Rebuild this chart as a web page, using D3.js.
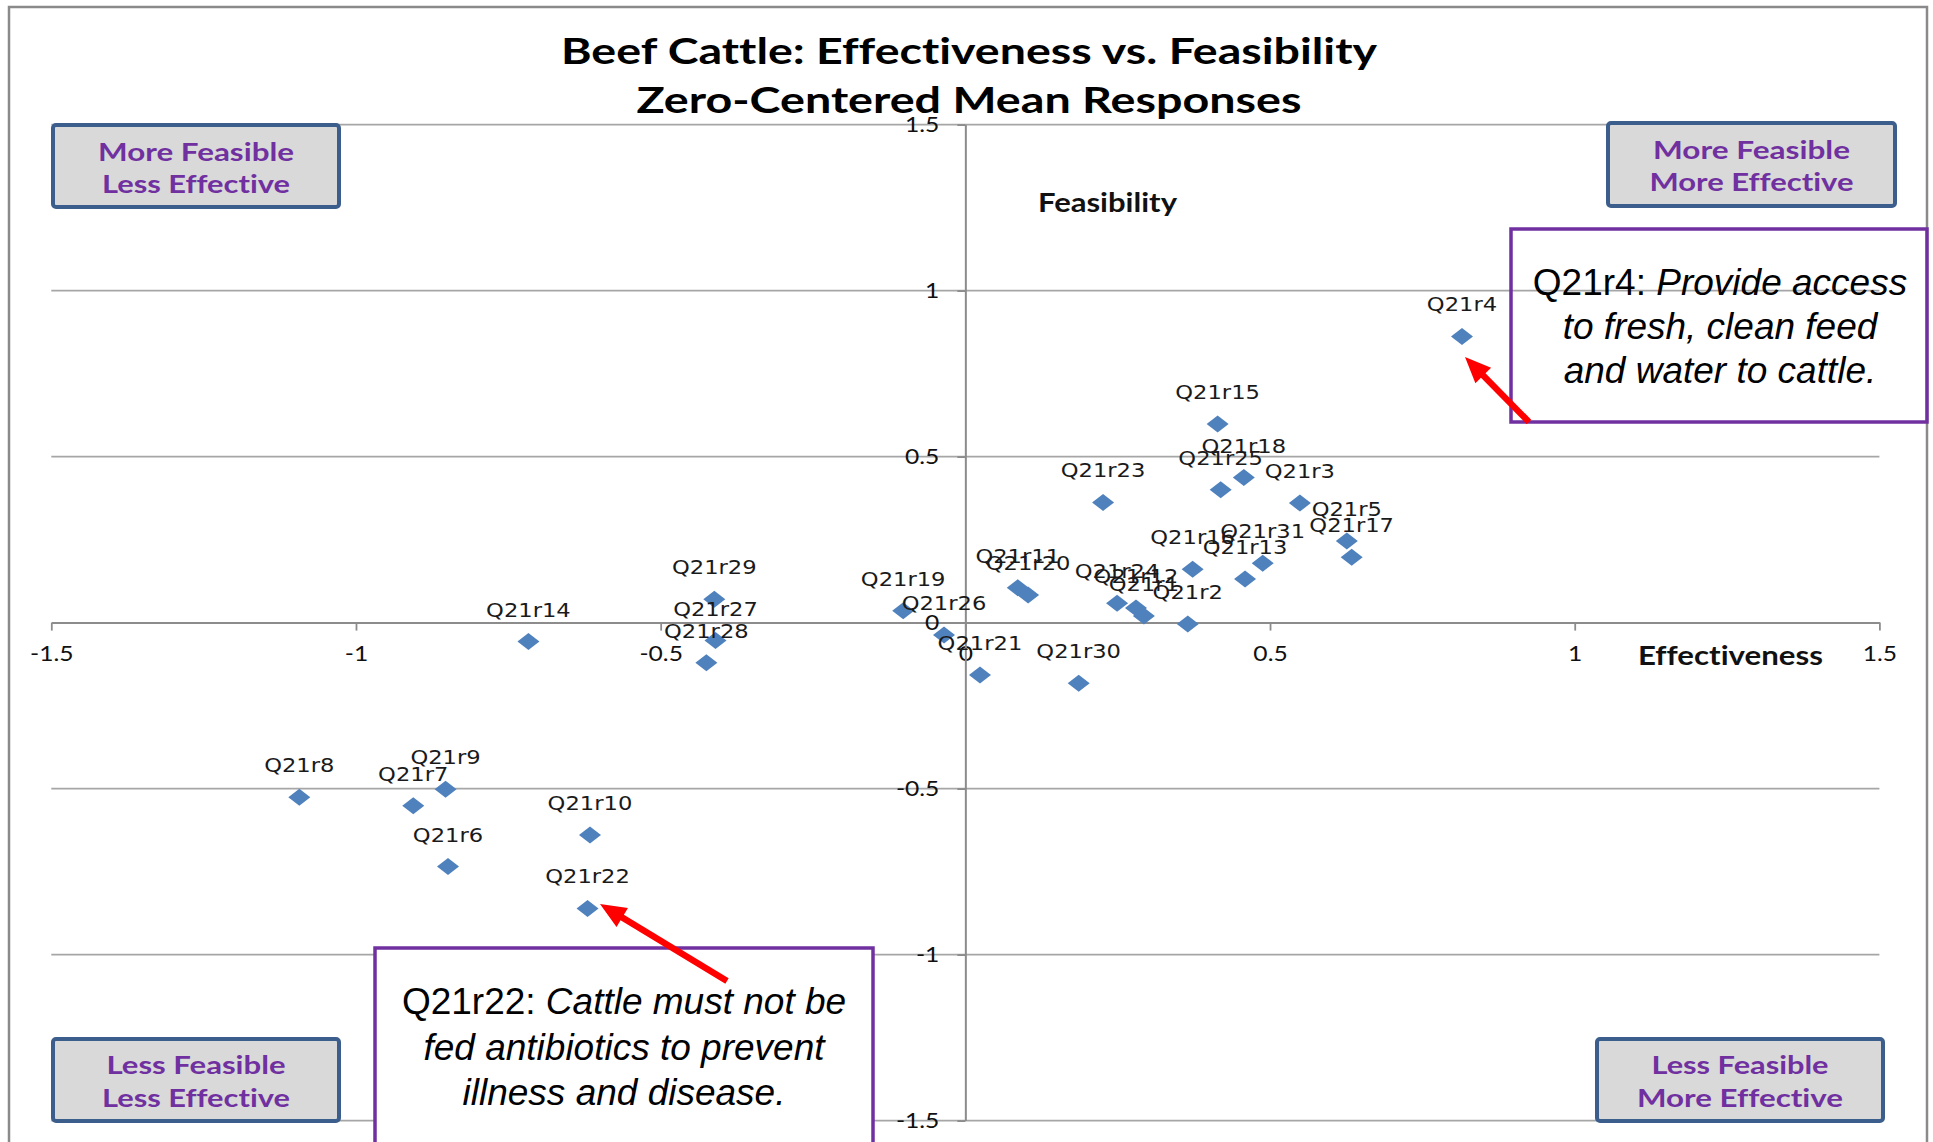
<!DOCTYPE html>
<html><head><meta charset="utf-8">
<script src="https://cdn.jsdelivr.net/npm/d3@7/dist/d3.min.js"></script>
<style>body{margin:0;background:#fff;} svg{display:block;} text{font-variant-ligatures:none;}</style>
</head><body>
<svg id="chart" width="1933" height="1142"></svg>
<script>
// ---------- data ----------
const labels = ["Q21r1","Q21r2","Q21r3","Q21r4","Q21r5","Q21r6","Q21r7","Q21r8","Q21r9","Q21r10",
  "Q21r11","Q21r12","Q21r13","Q21r14","Q21r15","Q21r16","Q21r17","Q21r18","Q21r19","Q21r20",
  "Q21r21","Q21r22","Q21r23","Q21r24","Q21r25","Q21r26","Q21r27","Q21r28","Q21r29","Q21r30","Q21r31"];
const effectiveness = [0.293,0.365,0.549,0.815,0.626,-0.849,-0.906,-1.093,-0.853,-0.616,
  0.086,0.280,0.459,-0.717,0.414,0.373,0.634,0.457,-0.102,0.103,
  0.024,-0.620,0.226,0.249,0.419,-0.035,-0.410,-0.425,-0.412,0.186,0.488];
const feasibility = [0.020,-0.004,0.360,0.862,0.246,-0.735,-0.552,-0.526,-0.502,-0.640,
  0.105,0.044,0.131,-0.057,0.598,0.161,0.197,0.437,0.036,0.083,
  -0.158,-0.861,0.362,0.058,0.400,-0.037,-0.054,-0.121,0.070,-0.183,0.179];
const xTicks = [-1.5,-1,-0.5,0,0.5,1,1.5];
const xTickLabels = ["-1.5","-1","-0.5","0","0.5","1","1.5"];
const yTicks = [-1.5,-1,-0.5,0,0.5,1,1.5];
const yTickLabels = ["-1.5","-1","-0.5","0","0.5","1","1.5"];
const titleLines = ["Beef Cattle: Effectiveness vs. Feasibility","Zero-Centered Mean Responses"];
const xAxisTitle = "Effectiveness";
const yAxisTitle = "Feasibility";
const quadrantLines = [["More Feasible","Less Effective"],["More Feasible","More Effective"],
  ["Less Feasible","Less Effective"],["Less Feasible","More Effective"]];
const noteTop = [["Q21r4: ","Provide access"],["","to fresh, clean feed"],["","and water to cattle."]];
const noteBottom = [["Q21r22: ","Cattle must not be"],["","fed antibiotics to prevent"],["","illness and disease."]];

// ---------- layout ----------
const svg = d3.select("#chart");
const x = d3.scaleLinear().domain([-1.5,1.5]).range([51.3,1879.4]);
const y = d3.scaleLinear().domain([-1.5,1.5]).range([1120.6,124.6]);
const GRID = "#a6a6a6", AXIS = "#8c8c8c", BLUE = "#4f81bd", PURPLE = "#7030a0";
const CAL = "Lato, 'Open Sans', sans-serif";

function stretch(sel, k){
  sel.each(function(){
    const w = this.getComputedTextLength();
    this.setAttribute("textLength", w*k);
    this.setAttribute("lengthAdjust","spacingAndGlyphs");
  });
}
function fit(sel, w){
  sel.attr("textLength", w).attr("lengthAdjust","spacingAndGlyphs");
}

// outer chart border
svg.append("rect").attr("x",9).attr("y",7).attr("width",1918).attr("height",1160)
  .attr("fill","#fff").attr("stroke","#8a8a8a").attr("stroke-width",2.5);

// gridlines
svg.append("g").selectAll("line").data(yTicks.filter(d=>d!==0)).join("line")
  .attr("x1",x(-1.5)).attr("x2",x(1.5)).attr("y1",d=>y(d)).attr("y2",d=>y(d))
  .attr("stroke",GRID).attr("stroke-width",1.8);

// x axis
const gx = svg.append("g").attr("transform",`translate(0,${y(0)})`)
  .call(d3.axisBottom(x).tickValues(xTicks).tickSize(8).tickSizeOuter(0)
    .tickFormat((d,i)=>xTickLabels[i]));
// y axis
const gy = svg.append("g").attr("transform",`translate(${x(0)},0)`)
  .call(d3.axisLeft(y).tickValues(yTicks).tickSize(8).tickSizeOuter(0)
    .tickFormat((d,i)=>yTickLabels[i]));
[gx,gy].forEach(g=>{
  g.select(".domain").attr("stroke",AXIS).attr("stroke-width",2);
  g.selectAll(".tick line").attr("stroke",AXIS).attr("stroke-width",1.8);
  g.selectAll(".tick text").attr("fill","#111").style("font-family",CAL).style("font-size","20.5px");
});
gx.selectAll(".tick text").attr("y",38).attr("dy",null);
gy.selectAll(".tick text").attr("x",-26).attr("dy","0.36em");
stretch(gx.selectAll(".tick text"),1.2);
stretch(gy.selectAll(".tick text"),1.2);

// axis titles
svg.append("text").attr("x",1107.5).attr("y",212).attr("text-anchor","middle")
  .style("font-family",CAL).style("font-weight",700).style("font-size","26px").attr("fill","#111")
  .text(yAxisTitle).call(fit,139);
svg.append("text").attr("x",1730.5).attr("y",665).attr("text-anchor","middle")
  .style("font-family",CAL).style("font-weight",700).style("font-size","27px").attr("fill","#111")
  .text(xAxisTitle).call(fit,185);

// points
const pts = labels.map((l,i)=>({label:l, ex:effectiveness[i], fe:feasibility[i]}));
svg.append("g").selectAll("path").data(pts).join("path")
  .attr("d","M0,-8.5L11,0L0,8.5L-11,0Z")
  .attr("transform",d=>`translate(${x(d.ex)},${y(d.fe)})`)
  .attr("fill",BLUE);
const lab = svg.append("g").selectAll("text").data(pts).join("text")
  .attr("x",d=>x(d.ex)).attr("y",d=>y(d.fe)-25).attr("text-anchor","middle")
  .style("font-family","'DejaVu Sans', Verdana, sans-serif").style("font-size","19.5px")
  .attr("fill","#1a1a1a").text(d=>d.label);
stretch(lab,1.16);

// title
const titleW = [816,665], titleB = [64,113];
titleLines.forEach((t,i)=>{
  svg.append("text").attr("x",969).attr("y",titleB[i]).attr("text-anchor","middle")
    .style("font-family",CAL).style("font-weight",700).style("font-size","36px").attr("fill","#000")
    .text(t).call(fit,titleW[i]);
});

// quadrant boxes
const qBoxes = [
  {x:53,y:125,w:286,h:82,b:[161,193],tw:[196,188]},
  {x:1608,y:123,w:287,h:83,b:[159,191],tw:[197,204]},
  {x:53,y:1039,w:286,h:82,b:[1074,1107],tw:[179,188]},
  {x:1597,y:1039,w:286,h:82,b:[1074,1107],tw:[177,206]}
];
qBoxes.forEach((q,i)=>{
  svg.append("rect").attr("x",q.x).attr("y",q.y).attr("width",q.w).attr("height",q.h).attr("rx",3)
    .attr("fill","#d9d9d9").attr("stroke","#3b5e8c").attr("stroke-width",4);
  quadrantLines[i].forEach((t,j)=>{
    svg.append("text").attr("x",q.x+q.w/2).attr("y",q.b[j]).attr("text-anchor","middle")
      .style("font-family",CAL).style("font-weight",700).style("font-size","25.5px").attr("fill",PURPLE)
      .text(t).call(fit,q.tw[j]);
  });
});

// note boxes
function note(box, lines, cx, base, fill){
  svg.append("rect").attr("x",box[0]).attr("y",box[1]).attr("width",box[2]).attr("height",box[3])
    .attr("fill",fill).attr("stroke",PURPLE).attr("stroke-width",3.5);
  lines.forEach((ln,j)=>{
    const t = svg.append("text").attr("x",cx).attr("y",base[j]).attr("text-anchor","middle")
      .style("font-family","'Liberation Sans', Arial, sans-serif").style("font-size","37px").attr("fill","#000");
    if(ln[0]) t.append("tspan").text(ln[0]);
    t.append("tspan").style("font-style","italic").text(ln[1]);
  });
}
note([1511,229,416,193], noteTop, 1720, [295,339,383], "none");
note([375,948,498,200], noteBottom, 624, [1014,1060,1105], "#fff");

// arrows
function arrow(x1,y1,x2,y2){
  const dx=x2-x1, dy=y2-y1, L=Math.hypot(dx,dy), ux=dx/L, uy=dy/L, px=-uy, py=ux;
  const sw=3.2, hl=26, hw=11;
  const bx=x2-ux*hl, by=y2-uy*hl;
  const p=[[x1+px*sw,y1+py*sw],[bx+px*sw,by+py*sw],[bx+px*hw,by+py*hw],[x2,y2],
    [bx-px*hw,by-py*hw],[bx-px*sw,by-py*sw],[x1-px*sw,y1-py*sw]];
  svg.append("path").attr("d","M"+p.map(q=>q.join(",")).join("L")+"Z").attr("fill","#ff0000");
}
arrow(1529,422,1465,357);
arrow(727,981,600,904);
</script>
</body></html>
